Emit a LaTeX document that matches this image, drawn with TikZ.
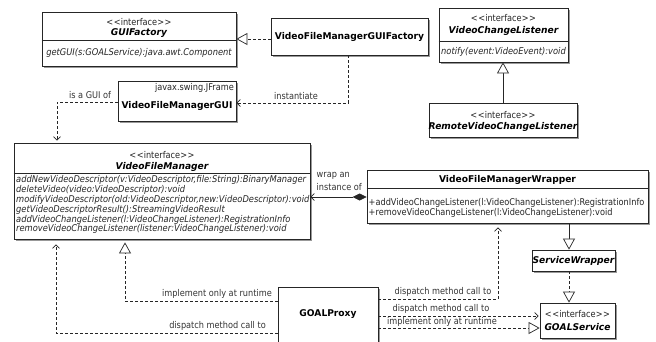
\documentclass[tikz,border=0pt]{standalone}
\usepackage{fontspec}
\setmainfont{DejaVu Sans}[FakeStretch=0.88, ItalicFeatures={FakeStretch=0.895}, BoldFeatures={FakeStretch=0.98}, BoldItalicFeatures={FakeStretch=0.98}]
\usetikzlibrary{arrows.meta,fit,shadows}
\newcommand{\fsz}{\fontsize{9.3}{10.5}\selectfont}
\newcommand{\ster}{<\kern0.6pt<interface>\kern0.6pt>}
\begin{document}
\begin{tikzpicture}[x=1pt,y=-1pt]
\tikzset{
  box/.style={draw=black!85, line width=0.8pt, fill=white, inner sep=0pt,
    drop shadow={shadow xshift=2pt, shadow yshift=-2pt, fill=black!40, opacity=1}},
  txt/.style={inner sep=0pt, font=\fsz, text=black!85},
  txtb/.style={inner sep=0pt, font=\fsz\bfseries, text=black},
  txtbi/.style={inner sep=0pt, font=\fsz\bfseries\itshape, text=black},
  txti/.style={inner sep=0pt, font=\fsz\itshape, text=black!85},
  lbl/.style={inner sep=0pt, font=\fsz, text=black!80},
  conn/.style={line width=0.7pt, draw=black!85},
  dsh/.style={conn, dash pattern=on 3pt off 2pt},
  openarr/.style={-{Straight Barb[length=3.5pt,width=7pt]}},
  tri/.style={-{Triangle[open,length=11pt,width=12pt,fill=white]}},
  divider/.style={line width=0.7pt, draw=black!85}
}
\useasboundingbox (0,0) rectangle (656,341);

% GUIFactory
\node[box, fit={(42,12)(236,66)}] (guif) {};
\draw[divider] ([yshift=-29pt]guif.north west) -- ([yshift=-29pt]guif.north east);
\node[txt] (guif-s) at (139,22) {\ster};
\node[txtbi] (guif-n) at (139,33) {GUIFactory};
\node[txti] (guif-m) at (139,53) {getGUI(s:GOALService):java.awt.Component};

% VideoFileManagerGUIFactory
\node[box, fit={(271,18)(428,55)}] (gfact) {};
\node[txtb] (gfact-n) at (349.5,37) {VideoFileManagerGUIFactory};

% VideoChangeListener
\node[box, fit={(439,8)(568,62)}] (vcl) {};
\draw[divider] ([yshift=-34pt]vcl.north west) -- ([yshift=-34pt]vcl.north east);
\node[txt] (vcl-s) at (503.5,18) {\ster};
\node[txtbi] (vcl-n) at (503.5,31) {VideoChangeListener};
\node[txti] (vcl-m) at (503.5,52) {notify(event:VideoEvent):void};

% RemoteVideoChangeListener
\node[box, fit={(429,103)(577,137)}] (rvcl) {};
\node[txt] (rvcl-s) at (503,115) {\ster};
\node[txtbi] (rvcl-n) at (503,127) {RemoteVideoChangeListener};

% VideoFileManagerGUI
\node[box, fit={(118,81)(236,121)}] (gui) {};
\node[txt, anchor=east] (gui-s) at (234,88) {javax.swing.JFrame};
\node[txtb] (gui-n) at (177,106) {VideoFileManagerGUI};

% VideoFileManager
\node[box, fit={(14,143)(310,239)}] (vfm) {};
\draw[divider] ([yshift=-31pt]vfm.north west) -- ([yshift=-31pt]vfm.north east);
\node[txt] (vfm-s) at (162,155) {\ster};
\node[txtbi] (vfm-n) at (162,167) {VideoFileManager};
\node[txti, anchor=west] (vfm-m1) at (16,180) {addNewVideoDescriptor(v:VideoDescriptor,file:String):BinaryManager};
\node[txti, anchor=west] (vfm-m2) at (16,190) {deleteVideo(video:VideoDescriptor):void};
\node[txti, anchor=west] (vfm-m3) at (16,200) {modifyVideoDescriptor(old:VideoDescriptor,new:VideoDescriptor):void};
\node[txti, anchor=west] (vfm-m4) at (16,210) {getVideoDescriptorResult():StreamingVideoResult};
\node[txti, anchor=west] (vfm-m5) at (16,219.5) {addVideoChangeListener(l:VideoChangeListener):RegistrationInfo};
\node[txti, anchor=west] (vfm-m6) at (16,229) {removeVideoChangeListener(listener:VideoChangeListener):void};

% VideoFileManagerWrapper
\node[box, fit={(367,170)(648,223)}] (wrap) {};
\draw[divider] ([yshift=-19pt]wrap.north west) -- ([yshift=-19pt]wrap.north east);
\node[txtb] (wrap-n) at (507.5,180) {VideoFileManagerWrapper};
\node[txt, anchor=west] (wrap-m1) at (368.5,203) {+addVideoChangeListener(l:VideoChangeListener):RegistrationInfo};
\node[txt, anchor=west] (wrap-m2) at (368.5,213) {+removeVideoChangeListener(l:VideoChangeListener):void};

% ServiceWrapper
\node[box, fit={(532,250)(615,271)}] (sw) {};
\node[txtbi] (sw-n) at (573.5,260.5) {ServiceWrapper};

% GOALService
\node[box, fit={(540,303)(615,338)}] (gs) {};
\node[txt] (gs-s) at (577.5,314) {\ster};
\node[txtbi] (gs-n) at (577.5,327) {GOALService};

% GOALProxy
\node[box, fit={(278,287)(378,348)}] (proxy) {};
\node[txtb] (proxy-n) at (328,314) {GOALProxy};

% ---- connectors ----
\draw[dsh, tri] (gfact.west |- guif.east) -- (guif.east);

\coordinate (c-inst) at (348,103);
\draw[dsh, openarr] (gfact.south -| c-inst) -- (c-inst) -- (gui.east |- c-inst);
\node[lbl] (l-inst) at (296,96) {instantiate};

\coordinate (c-gui) at (57,102);
\draw[dsh, openarr, shorten >=2pt] (gui.west |- c-gui) -- (c-gui) -- (vfm.north -| c-gui);
\node[lbl] (l-gui) at (90,95) {is a GUI of};

\draw[conn, tri] (rvcl.north) -- (rvcl.north |- vcl.south);

\coordinate (c-w) at (0,197);
\draw[conn, {Diamond[length=14pt,width=7pt]}-{Straight Barb[length=3.5pt,width=7pt]}] (wrap.west |- c-w) -- (vfm.east |- c-w);
\node[lbl, anchor=west] (l-w1) at (316.5,176) {wrap an};
\node[lbl, anchor=west] (l-w2) at (316.5,187) {instance of};

\coordinate (c-sw) at (569,0);
\draw[conn, tri] (wrap.south -| c-sw) -- (sw.north -| c-sw);
\draw[dsh, tri] (sw.south -| c-sw) -- (gs.north -| c-sw);

\coordinate (c-impl) at (125,301);
\draw[dsh, tri, shorten >=3pt] (proxy.west |- c-impl) -- (c-impl) -- (vfm.south -| c-impl);
\node[lbl, anchor=east] (l-impl) at (272,294) {implement only at runtime};

\coordinate (c-disp) at (56,333);
\draw[dsh, openarr, shorten >=5pt] (proxy.west |- c-disp) -- (c-disp) -- (vfm.south -| c-disp);
\node[lbl, anchor=east] (l-disp) at (266,326) {dispatch method call to};

\coordinate (c-dw) at (498,299);
\draw[dsh, openarr, shorten >=4pt] (proxy.east |- c-dw) -- (c-dw) -- (wrap.south -| c-dw);
\node[lbl] (l-dw) at (443,292) {dispatch method call to};

\coordinate (c-d2) at (0,316);
\draw[dsh, openarr, shorten >=1pt] (proxy.east |- c-d2) -- (gs.west |- c-d2);
\node[lbl] (l-d2) at (441,309) {dispatch method call to};

\coordinate (c-i2) at (0,328);
\draw[dsh, tri] (proxy.east |- c-i2) -- (gs.west |- c-i2);
\node[lbl] (l-i2) at (442,321.5) {implement only at runtime};
\end{tikzpicture}
\end{document}
